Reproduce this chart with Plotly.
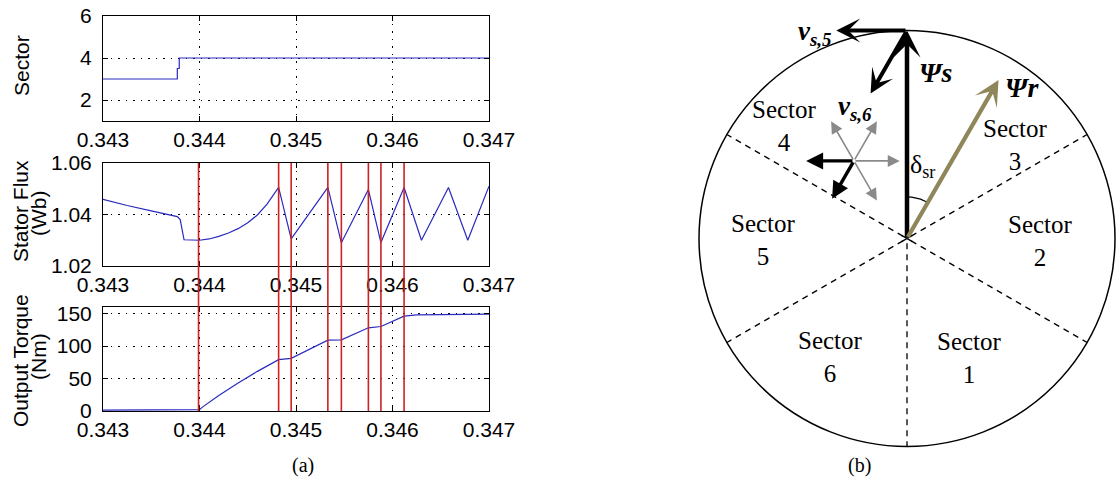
import numpy as np
import plotly.graph_objects as go

W, H = 1118, 495

# ---------------- data (panel a) ----------------
x_ticks = [0.343, 0.344, 0.345, 0.346, 0.347]
x_ticklabels = ["0.343", "0.344", "0.345", "0.346", "0.347"]

sector_t = [0.3430, 0.34377, 0.34377, 0.34379, 0.34379, 0.3470]
sector_v = [3, 3, 3.5, 3.5, 4, 4]

flux_t = [0.34300, 0.34325, 0.34350, 0.34377, 0.34380, 0.34384, 0.34400,
          0.34410, 0.34420, 0.34430, 0.34440, 0.34450, 0.34460, 0.34470,
          0.34482, 0.34495, 0.34533,
          0.34547, 0.34575, 0.34588, 0.34612, 0.34630, 0.34658, 0.34678, 0.34700]
flux_v = [1.0459, 1.0435, 1.0414, 1.0392, 1.0380, 1.0302, 1.0300,
          1.0305, 1.0315, 1.0328, 1.0345, 1.0368, 1.0398, 1.0440,
          1.0505, 1.0305, 1.0505,
          1.0290, 1.0497, 1.0291, 1.0505, 1.0300, 1.0505, 1.0300, 1.0510]

torque_t = [0.34300, 0.34400, 0.34403, 0.34420, 0.34440, 0.34460, 0.34482,
            0.34495, 0.34533, 0.34547, 0.34575, 0.34588, 0.34612, 0.34625, 0.34700]
torque_v = [1.5, 2, 6, 24, 43, 61, 79,
            81, 109, 109.5, 128, 130, 146, 148, 149]

switch_t = [0.34399, 0.34482, 0.34495, 0.34533, 0.34547, 0.34575, 0.34588, 0.34612]

# ---------------- data (panel b) ----------------
sector_line_angles = [30, 150, 210, 270, 330]
sector_names = ["Sector<br>1", "Sector<br>2", "Sector<br>3", "Sector<br>4", "Sector<br>5", "Sector<br>6"]
sector_label_x = [0.30, 0.64, 0.524, -0.587, -0.69, -0.37]
sector_label_y = [-0.574, -0.01, 0.45, 0.54, -0.007, -0.57]

# vector: (tail x, tail y, angle deg, length)
psi_s = (0.0, 0.0, 90, 1.0)
psi_r = (0.0, 0.0, 60, 0.88)
vs5 = (0.0, 1.0, 180, 0.34)
vs6 = (0.0, 1.0, 240, 0.35)
hex_center = (-0.255, 0.373)
hex_gray_angles = [0, 60, 120, 300]
hex_gray_len = 0.22
hex_black_angles = [180, 240]
hex_black_len = [0.23, 0.21]
delta_arc_r = 0.2

BLUE = "#2a2abf"
RED = "#cc2222"
OLIVE = "#8f8659"
SANS = "Liberation Sans, Arial, sans-serif"
SERIF = "Liberation Serif, Times New Roman, serif"

fig = go.Figure()
fig.add_trace(go.Scatter(x=sector_t, y=sector_v, mode="lines",
                         line=dict(color=BLUE, width=1.2), xaxis="x", yaxis="y"))
fig.add_trace(go.Scatter(x=flux_t, y=flux_v, mode="lines",
                         line=dict(color=BLUE, width=1.2), xaxis="x2", yaxis="y2"))
fig.add_trace(go.Scatter(x=torque_t, y=torque_v, mode="lines",
                         line=dict(color=BLUE, width=1.2), xaxis="x3", yaxis="y3"))


def px_y(py):
    return 1 - py / H


def xax(anchor):
    return dict(domain=[103 / W, 489 / W], range=[0.343, 0.347], anchor=anchor,
                tickmode="array", tickvals=x_ticks, ticktext=x_ticklabels,
                showline=True, linecolor="black", linewidth=1, mirror="ticks",
                ticks="inside", ticklen=5, tickcolor="black",
                showgrid=True, gridcolor="black", griddash="1.5px,6px", gridwidth=1,
                zeroline=False, ticklabelstandoff=0, automargin=False,
                tickfont=dict(family=SANS, size=21, color="black"))


def yax(anchor, dom, rng, tv, tt):
    return dict(domain=dom, range=rng, anchor=anchor,
                tickmode="array", tickvals=tv, ticktext=tt,
                showline=True, linecolor="black", linewidth=1, mirror="ticks",
                ticks="inside", ticklen=5, tickcolor="black",
                showgrid=True, gridcolor="black", griddash="1.5px,6px", gridwidth=1,
                zeroline=False, ticklabelstandoff=6, automargin=False,
                tickfont=dict(family=SANS, size=21, color="black"))


# diagram axis: unit circle, 208 px per unit, center at pixel (907, 238.5)
S = 208.0
CX, CY = 907.0, 238.5
dx0, dx1 = 680.0, 1118.0
dy0, dy1 = 8.0, 470.0

fig.update_layout(
    width=W, height=H, margin=dict(l=0, r=0, t=0, b=0, pad=0, autoexpand=False),
    autosize=False,
    paper_bgcolor="white", plot_bgcolor="white", showlegend=False,
    xaxis=xax("y"),
    yaxis=yax("x", [px_y(121), px_y(16)], [1, 6], [2, 4, 6], ["2", "4", "6"]),
    xaxis2=xax("y2"),
    yaxis2=yax("x2", [px_y(266), px_y(163)], [1.02, 1.06], [1.02, 1.04, 1.06], ["1.02", "1.04", "1.06"]),
    xaxis3=xax("y3"),
    yaxis3=yax("x3", [px_y(411), px_y(307)], [0, 160], [0, 50, 100, 150], ["0", "50", "100", "150"]),
    xaxis4=dict(domain=[dx0 / W, dx1 / W], range=[(dx0 - CX) / S, (dx1 - CX) / S],
                visible=False, anchor="y4", fixedrange=True, automargin=False),
    yaxis4=dict(domain=[px_y(dy1), px_y(dy0)], range=[(CY - dy1) / S, (CY - dy0) / S],
                visible=False, anchor="x4", fixedrange=True, automargin=False),
)

shapes = []
# red switching lines across flux & torque panels
for t in switch_t:
    shapes.append(dict(type="line", xref="x2", yref="paper", x0=t, x1=t,
                       y0=px_y(411), y1=px_y(163), line=dict(color=RED, width=1.6),
                       layer="above"))

# circle and sector boundaries
shapes.append(dict(type="circle", xref="x4", yref="y4", x0=-1, x1=1, y0=-1, y1=1,
                   line=dict(color="black", width=1.5)))
for a in sector_line_angles:
    r = np.radians(a)
    shapes.append(dict(type="line", xref="x4", yref="y4", x0=-0.03 * np.cos(r), y0=-0.03 * np.sin(r),
                       x1=float(np.cos(r)), y1=float(np.sin(r)),
                       line=dict(color="black", width=1.3, dash="6px,5px")))
fig.update_layout(shapes=shapes)

# delta arc
arc_a = np.radians(np.linspace(psi_r[2], psi_s[2], 20))
fig.add_trace(go.Scatter(x=delta_arc_r * np.cos(arc_a), y=delta_arc_r * np.sin(arc_a), mode="lines",
                         line=dict(color="black", width=1.2), xaxis="x4", yaxis="y4",
                         hoverinfo="skip"))

ann = []


def arrow(x0, y0, ang, length, color, width, head, size):
    r = np.radians(ang)
    x1 = x0 + length * np.cos(r)
    y1 = y0 + length * np.sin(r)
    return dict(x=float(x1), y=float(y1), ax=float(x0), ay=float(y0),
                xref="x4", yref="y4", axref="x4", ayref="y4",
                showarrow=True, arrowhead=head, arrowsize=size, arrowwidth=width,
                arrowcolor=color, text="", standoff=0)


for ga in hex_gray_angles:
    ann.append(arrow(hex_center[0], hex_center[1], ga, hex_gray_len, "#8a8a8a", 1.6, 2, 1.5))
for ba, bl in zip(hex_black_angles, hex_black_len):
    ann.append(arrow(hex_center[0], hex_center[1], ba, bl, "black", 3.4, 2, 1.0))
ann.append(arrow(*psi_s, "black", 4.5, 3, 1.0))
ann.append(arrow(*psi_r, OLIVE, 4.2, 3, 1.0))
ann.append(arrow(*vs5, "black", 4.0, 3, 1.0))
ann.append(arrow(*vs6, "black", 4.0, 3, 1.0))

# diagram labels
for nm, lx, ly in zip(sector_names, sector_label_x, sector_label_y):
    ann.append(dict(x=lx, y=ly, xref="x4", yref="y4", text=nm, showarrow=False,
                    font=dict(family=SERIF, size=25, color="black"), align="center"))

ann.append(dict(x=0.135, y=0.796, xref="x4", yref="y4", text="<b><i>Ψs</i></b>", showarrow=False,
                font=dict(family=SERIF, size=28, color="black")))
ann.append(dict(x=0.553, y=0.724, xref="x4", yref="y4", text="<b><i>Ψr</i></b>", showarrow=False,
                font=dict(family=SERIF, size=28, color="black")))
ann.append(dict(x=-0.442, y=0.99, xref="x4", yref="y4", text="<b><i>v<sub>s,5</sub></i></b>",
                showarrow=False, font=dict(family=SERIF, size=27, color="black")))
ann.append(dict(x=-0.25, y=0.627, xref="x4", yref="y4", text="<b><i>v<sub>s,6</sub></i></b>",
                showarrow=False, font=dict(family=SERIF, size=27, color="black")))
ann.append(dict(x=0.075, y=0.35, xref="x4", yref="y4", text="δ<sub>sr</sub>",
                showarrow=False, font=dict(family=SERIF, size=26, color="black")))

# y-axis titles (panel a)
def ytitle(text, xp, yp):
    return dict(x=xp / W, y=px_y(yp), xref="paper", yref="paper", text=text, showarrow=False,
                textangle=-90, xanchor="center", yanchor="middle",
                font=dict(family=SANS, size=21, color="black"))


ann.append(ytitle("Sector", 22, 66))
ann.append(ytitle("Stator Flux", 20, 211))
ann.append(ytitle("(Wb)", 38, 213))
ann.append(ytitle("Output Torque", 20, 361))
ann.append(ytitle("(Nm)", 38, 357))

# captions
ann.append(dict(x=290 / W, y=px_y(479), xref="paper", yref="paper", text="(a)", showarrow=False,
                font=dict(family=SERIF, size=20, color="black")))
ann.append(dict(x=873 / W, y=px_y(479), xref="paper", yref="paper", text="(b)", showarrow=False,
                font=dict(family=SERIF, size=20, color="black")))

fig.update_layout(annotations=ann)
fig.write_html("out.html")
